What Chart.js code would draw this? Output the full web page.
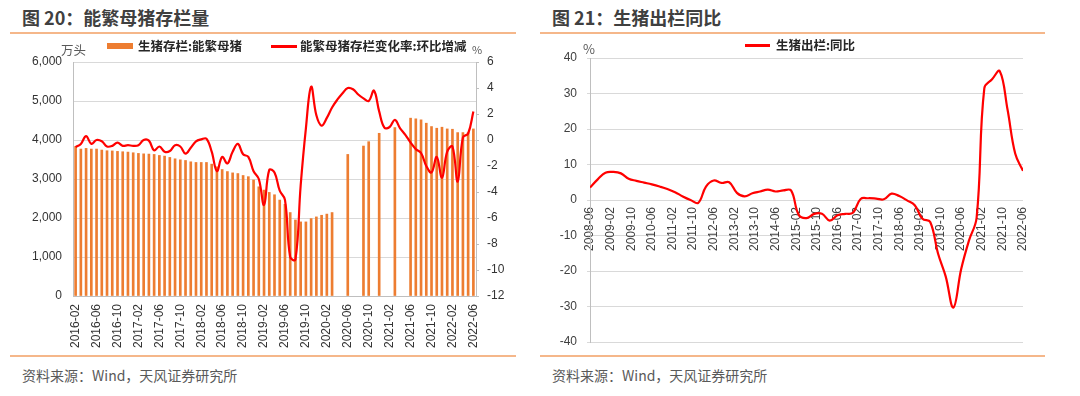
<!DOCTYPE html>
<html>
<head>
<meta charset="utf-8">
<script src="https://cdn.jsdelivr.net/npm/chart.js@4.4.1/dist/chart.umd.min.js"></script>
<style>
  html, body { margin: 0; padding: 0; background: #ffffff; }
  body { width: 1080px; height: 396px; position: relative; overflow: hidden; font-family: "Noto Sans CJK SC", sans-serif; }
  .abs { position: absolute; white-space: nowrap; line-height: 1; }
  .title { font-size: 18px; font-weight: bold; color: #404040; top: 8px; }
  .rule { position: absolute; height: 2px; background: #F5B78A; }
  .src { font-size: 14px; color: #595959; top: 368px; }
  .lg { font-size: 12.5px; font-weight: bold; color: #262626; }
  .unit { font-size: 12.5px; color: #595959; }
  canvas { position: absolute; top: 0; }
</style>
</head>
<body>
<div class="abs title" style="left:22px">图 20：能繁母猪存栏量</div>
<div class="abs title" style="left:552px">图 21：生猪出栏同比</div>
<div class="rule" style="left:10px;width:506px;top:32px"></div>
<div class="rule" style="left:540px;width:505px;top:32px"></div>
<div class="rule" style="left:10px;width:506px;top:355px"></div>
<div class="rule" style="left:540px;width:505px;top:355px"></div>
<div class="abs src" style="left:22px">资料来源：Wind，天风证券研究所</div>
<div class="abs src" style="left:552px">资料来源：Wind，天风证券研究所</div>

<canvas id="c1" width="540" height="396" style="left:0px"></canvas>
<canvas id="c2" width="540" height="396" style="left:540px"></canvas>

<!-- legends -->
<div class="abs unit" style="left:61px;top:44px">万头</div>
<div class="abs" style="left:107px;top:43px;width:26px;height:6px;background:#ED7D31"></div>
<div class="abs lg" style="left:138px;top:40px">生猪存栏:能繁母猪</div>
<div class="abs" style="left:271px;top:45px;width:26px;height:2.5px;background:#FF0000"></div>
<div class="abs lg" style="left:300px;top:40px">能繁母猪存栏变化率:环比增减</div>
<div class="abs unit" style="left:472px;top:44px;font-size:11px">%</div>

<div class="abs unit" style="left:583px;top:42px;font-size:13px">%</div>
<div class="abs" style="left:745px;top:44px;width:25px;height:2.5px;background:#FF0000"></div>
<div class="abs lg" style="left:776px;top:39px">生猪出栏:同比</div>

<script>
// ---------- Chart 20: 能繁母猪存栏量 (monthly) ----------
const MONTHS_L = [
  '2016-02','2016-03','2016-04','2016-05','2016-06','2016-07','2016-08','2016-09','2016-10','2016-11','2016-12',
  '2017-01','2017-02','2017-03','2017-04','2017-05','2017-06','2017-07','2017-08','2017-09','2017-10','2017-11','2017-12',
  '2018-01','2018-02','2018-03','2018-04','2018-05','2018-06','2018-07','2018-08','2018-09','2018-10','2018-11','2018-12',
  '2019-01','2019-02','2019-03','2019-04','2019-05','2019-06','2019-07','2019-08','2019-09','2019-10','2019-11','2019-12',
  '2020-01','2020-02','2020-03','2020-04','2020-05','2020-06','2020-07','2020-08','2020-09','2020-10','2020-11','2020-12',
  '2021-01','2021-02','2021-03','2021-04','2021-05','2021-06','2021-07','2021-08','2021-09','2021-10','2021-11','2021-12',
  '2022-01','2022-02','2022-03','2022-04','2022-05','2022-06'
];
const TICKS_L = ['2016-02','2016-06','2016-10','2017-02','2017-06','2017-10','2018-02','2018-06','2018-10',
  '2019-02','2019-06','2019-10','2020-02','2020-06','2020-10','2021-02','2021-06','2021-10','2022-02','2022-06'];
// 生猪存栏:能繁母猪 (万头)
const SOW_STOCK = [
  3835,3768,3785,3768,3768,3742,3725,3720,3708,3699,
  3690,3673,3656,3645,3639,3630,3604,3587,3553,3518,
  3492,3475,3441,3424,3424,3424,3381,3312,3243,3191,
  3157,3140,3090,3060,2975,2800,2716,2656,2596,2460,
  2350,2140,1950,1900,1900,1985,2028,2070,2100,2140,
  null,null,3630,null,null,3845,3957,null,4172,null,
  null,4319,null,null,4560,4543,4517,4431,4345,4302,
  4328,4284,4276,4190,4190,4190,4284
];
// 能繁母猪存栏变化率:环比增减 (%)
const SOW_MOM = [
  -0.55,-0.3,0.3,-0.3,0.0,-0.1,-0.5,-0.45,-0.2,-0.45,
  -0.4,-0.45,-0.4,0.0,-0.05,-0.8,-0.5,-0.9,-0.85,-0.4,
  -0.5,-1.05,-0.6,-0.1,0.05,0.1,-0.9,-2.4,-1.3,-1.8,
  -0.9,-0.3,-1.1,-1.3,-2.4,-3.0,-5.0,-2.3,-2.5,-3.9,
  -4.6,-9.0,-9.2,-3.5,0.9,4.1,1.9,1.1,1.7,2.5,
  3.1,3.6,4.0,3.9,3.5,3.2,3.0,3.8,2.2,0.95,
  1.0,1.55,0.9,0.4,-0.2,-0.7,-1.0,-2.0,-2.5,-1.3,
  -2.9,-0.9,-0.5,-3.2,0.2,0.5,2.2
];

// ---------- Chart 21: 生猪出栏同比 (quarterly) ----------
const QUARTERS_R = [
  '2008-06','2008-09','2008-12','2009-03','2009-06','2009-09','2009-12','2010-03','2010-06','2010-09','2010-12',
  '2011-03','2011-06','2011-09','2011-12','2012-03','2012-06','2012-09','2012-12','2013-03','2013-06','2013-09','2013-12',
  '2014-03','2014-06','2014-09','2014-12','2015-03','2015-06','2015-09','2015-12','2016-03','2016-06','2016-09','2016-12',
  '2017-03','2017-06','2017-09','2017-12','2018-03','2018-06','2018-09','2018-12','2019-03','2019-06','2019-09','2019-12',
  '2020-03','2020-06','2020-09','2020-12','2021-03','2021-06','2021-09','2021-12','2022-03','2022-06'
];
// 生猪出栏:同比 (%)
const HOG_YOY = [
  3.5,5.8,7.7,7.9,7.5,6.0,5.4,4.9,4.4,3.8,3.1,
  2.2,1.0,0.0,-0.8,3.8,5.5,4.8,5.0,2.0,1.0,1.9,2.4,
  2.9,2.4,2.7,2.7,-4.2,-5.1,-3.9,-3.9,-5.8,-4.3,-3.9,-3.6,
  0.3,0.5,0.4,0.2,1.8,1.1,-0.1,-1.5,-5.3,-6.2,-15.0,-21.5,
  -30.3,-19.5,-11.5,-5.0,31.5,34.0,36.3,25.5,13.0,8.2
];
const TICKS_R = ['2008-06','2009-02','2009-10','2010-06','2011-02','2011-10','2012-06','2013-02','2013-10',
  '2014-06','2015-02','2015-10','2016-06','2017-02','2017-10','2018-06','2019-02','2019-10','2020-06',
  '2021-02','2021-10','2022-06'];

const AXIS_FONT = { family: 'Liberation Sans, Arial, sans-serif', size: 12 };
const GRID = '#D9D9D9';
const AXIS = '#BFBFBF';

function monthOffset(s) {
  const [y, m] = s.split('-').map(Number);
  const [y0, m0] = TICKS_R[0].split('-').map(Number);
  return (y - y0) * 12 + (m - m0);
}

new Chart(document.getElementById('c1'), {
  data: {
    labels: MONTHS_L,
    datasets: [
      { type: 'line', label: '能繁母猪存栏变化率:环比增减', data: SOW_MOM, yAxisID: 'y2',
        borderColor: '#FF0000', borderWidth: 2.2, pointRadius: 0, tension: 0.4, order: 0 },
      { type: 'bar', label: '生猪存栏:能繁母猪', data: SOW_STOCK, yAxisID: 'y',
        backgroundColor: '#ED7D31', barThickness: 2, order: 1 }
    ]
  },
  options: {
    responsive: false, animation: false, devicePixelRatio: 1,
    layout: { padding: { left: 0, right: 34, top: 62, bottom: 0 } },
    plugins: { legend: { display: false }, tooltip: { enabled: false } },
    scales: {
      x: {
        type: 'category', offset: true,
        grid: { display: false, drawTicks: false },
        border: { display: true, color: AXIS },
        ticks: {
          autoSkip: false, minRotation: 90, maxRotation: 90, padding: 8,
          font: AXIS_FONT, color: '#333333',
          callback: function (v, i) { return TICKS_L.includes(MONTHS_L[i]) ? MONTHS_L[i] : ''; }
        },
        afterFit: function (s) { s.height = 100; }
      },
      y: {
        position: 'left', min: 0, max: 6000,
        ticks: { stepSize: 1000, padding: 11, font: AXIS_FONT, color: '#333333' },
        grid: { color: GRID, drawTicks: false },
        border: { color: AXIS },
        afterFit: function (s) { s.width = 73; }
      },
      y2: {
        position: 'right', min: -12, max: 6,
        ticks: { stepSize: 1, padding: 8, font: AXIS_FONT, color: '#333333',
          callback: function (v) { return v % 2 === 0 ? String(v) : ''; } },
        grid: { drawOnChartArea: false, tickLength: 3, color: AXIS },
        border: { color: AXIS },
        afterFit: function (s) { s.width = 30; }
      }
    }
  }
});

new Chart(document.getElementById('c2'), {
  type: 'line',
  data: {
    datasets: [
      { label: '生猪出栏:同比',
        data: QUARTERS_R.map(function (q, i) { return { x: monthOffset(q), y: HOG_YOY[i] }; }),
        borderColor: '#FF0000', borderWidth: 2.2, pointRadius: 0, tension: 0.4 }
    ]
  },
  options: {
    responsive: false, animation: false, devicePixelRatio: 1,
    layout: { padding: { left: 0, right: 57, top: 58, bottom: 54 } },
    plugins: { legend: { display: false }, tooltip: { enabled: false } },
    scales: {
      x: {
        type: 'linear', min: 0, max: monthOffset(TICKS_R[TICKS_R.length - 1]),
        position: { y: 0 },
        grid: { display: false, drawTicks: false },
        border: { display: false },
        ticks: {
          stepSize: 8, autoSkip: false, minRotation: 90, maxRotation: 90, padding: 7,
          font: AXIS_FONT, color: '#404040',
          callback: function (v) { const k = Math.round(v / 8); return TICKS_R[k] || ''; }
        },
        afterFit: function (s) { s.height = 0; }
      },
      y: {
        position: 'left', min: -40, max: 40,
        ticks: { stepSize: 10, padding: 10, font: AXIS_FONT, color: '#404040' },
        grid: { color: GRID, tickLength: 3 },
        border: { color: AXIS },
        afterFit: function (s) { s.width = 50; }
      }
    }
  }
});
</script>
</body>
</html>
